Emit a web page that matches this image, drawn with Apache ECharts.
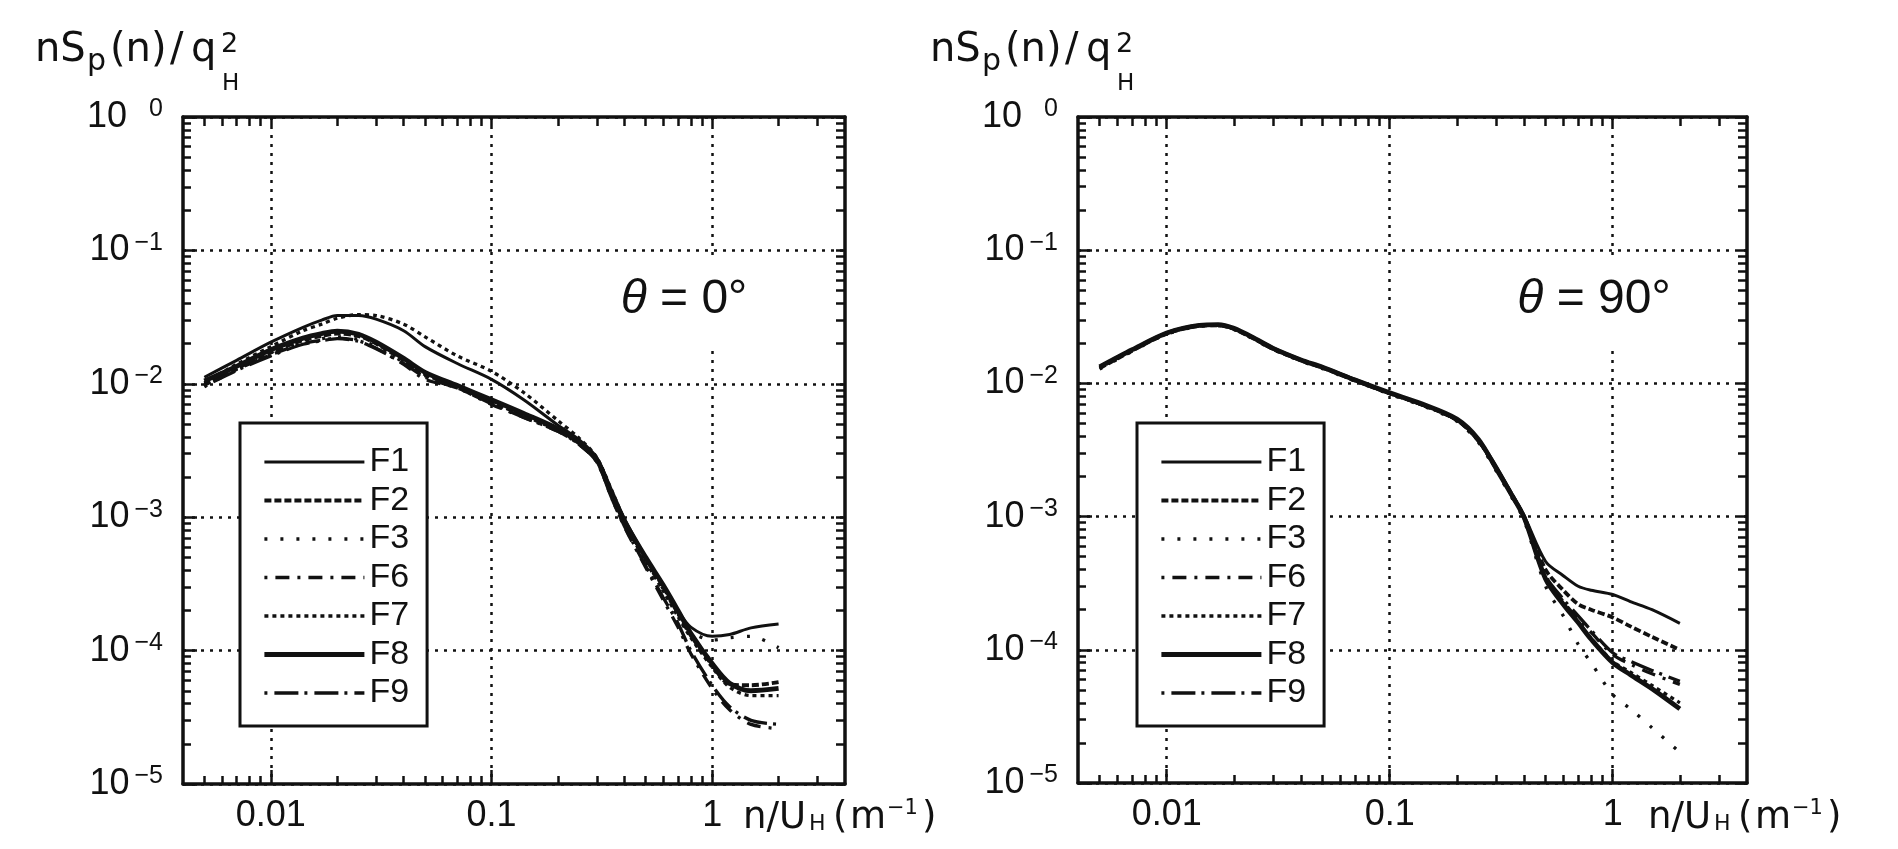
<!DOCTYPE html>
<html>
<head>
<meta charset="utf-8">
<title>nSp(n)/qH2 spectra</title>
<script src="https://cdn.jsdelivr.net/npm/echarts@6/dist/echarts.min.js"></script>
<style>
  html, body { margin: 0; padding: 0; background: #fff; }
  #chart { width: 1898px; height: 849px; }
</style>
</head>
<body>
<div id="chart"></div>
<script>
// n/U_H (1/m), shared by all curves
const FREQ = [0.005, 0.007, 0.01, 0.014, 0.017, 0.02, 0.025, 0.03, 0.04, 0.05, 0.07, 0.1, 0.14, 0.2,
  0.25, 0.3, 0.35, 0.4, 0.5, 0.6, 0.7, 0.8, 1.0, 1.2, 1.5, 2.0];

const X_TICKS = [0.01, 0.1, 1];
const X_TICK_LABELS = ['0.01', '0.1', '1'];
const Y_TICKS = [1e-5, 1e-4, 1e-3, 1e-2, 1e-1, 1];
const Y_TICK_EXPONENTS = ['−5', '−4', '−3', '−2', '−1', '0'];
const SERIES_NAMES = ['F1', 'F2', 'F3', 'F6', 'F7', 'F8', 'F9'];
const PANEL_LABELS = ['0°', '90°'];

// theta = 0
const T0_F1 = [0.0112, 0.0150, 0.0205, 0.0265, 0.0300, 0.0325, 0.0325, 0.0305, 0.0250, 0.0190, 0.0142, 0.0108, 0.0076, 0.0049,
  0.0038, 0.0028, 0.0016, 0.00098, 0.00050, 0.00031, 0.00020, 0.000150, 0.000128, 0.000132, 0.000148, 0.000158];
const T0_F2 = [0.0098, 0.0130, 0.0172, 0.0212, 0.0228, 0.0238, 0.0228, 0.0200, 0.0150, 0.0118, 0.0095, 0.0073, 0.0058, 0.0045,
  0.0036, 0.0027, 0.0015, 0.00092, 0.00049, 0.00030, 0.00019, 0.000130, 0.000078, 0.000056, 0.000055, 0.000058];
const T0_F3 = [0.0095, 0.0128, 0.0168, 0.0205, 0.0218, 0.0225, 0.0215, 0.0190, 0.0145, 0.0115, 0.0094, 0.0072, 0.0057, 0.0045,
  0.0036, 0.0027, 0.0015, 0.00090, 0.00047, 0.00029, 0.00019, 0.000140, 0.000120, 0.000125, 0.000128, 0.000105];
const T0_F6 = [0.0100, 0.0128, 0.0165, 0.0200, 0.0212, 0.0220, 0.0210, 0.0185, 0.0140, 0.0108, 0.0093, 0.0070, 0.0056, 0.0044,
  0.0035, 0.0026, 0.0014, 0.00085, 0.00042, 0.00024, 0.000150, 0.000095, 0.000052, 0.000036, 0.000028, 0.000026];
const T0_F7 = [0.0102, 0.0140, 0.0190, 0.0250, 0.0280, 0.0310, 0.0330, 0.0325, 0.0280, 0.0225, 0.0162, 0.0124, 0.0086, 0.0053,
  0.0039, 0.0028, 0.0016, 0.00096, 0.00047, 0.00028, 0.00018, 0.000125, 0.000075, 0.000053, 0.000046, 0.000046];
const T0_F8 = [0.0105, 0.0135, 0.0180, 0.0220, 0.0238, 0.0248, 0.0235, 0.0205, 0.0155, 0.0122, 0.0097, 0.0076, 0.0060, 0.0046,
  0.0036, 0.0027, 0.0015, 0.00094, 0.00050, 0.00031, 0.00020, 0.000135, 0.000080, 0.000057, 0.000050, 0.000052];
const T0_F9 = [0.0096, 0.0126, 0.0162, 0.0198, 0.0210, 0.0218, 0.0208, 0.0183, 0.0142, 0.0112, 0.0093, 0.0071, 0.0056, 0.0044,
  0.0035, 0.0026, 0.0014, 0.00086, 0.00043, 0.00025, 0.000160, 0.000100, 0.000055, 0.000038, 0.000030, 0.000028];

// theta = 90
const T90_F1 = [0.0134, 0.0180, 0.0240, 0.0274, 0.0277, 0.0260, 0.0217, 0.0185, 0.0151, 0.0133, 0.0107, 0.0085, 0.0070, 0.0054,
  0.0038, 0.0024, 0.00152, 0.00102, 0.00046, 0.00036, 0.00030, 0.00028, 0.00026, 0.00023, 0.00020, 0.000158];
const T90_F2 = [0.0130, 0.0176, 0.0236, 0.0270, 0.0273, 0.0256, 0.0213, 0.0181, 0.0149, 0.0131, 0.0105, 0.0084, 0.0069, 0.0053,
  0.0037, 0.0023, 0.00150, 0.00100, 0.00040, 0.00028, 0.00022, 0.00020, 0.000175, 0.000150, 0.000125, 0.000100];
const T90_F3 = [0.0128, 0.0174, 0.0234, 0.0268, 0.0271, 0.0254, 0.0211, 0.0179, 0.0147, 0.0129, 0.0104, 0.0083, 0.0068, 0.0052,
  0.0036, 0.0022, 0.00142, 0.00094, 0.00030, 0.00018, 0.00011, 0.000080, 0.000046, 0.000036, 0.000026, 0.000017];
const T90_F6 = [0.0132, 0.0178, 0.0238, 0.0272, 0.0275, 0.0258, 0.0215, 0.0182, 0.0150, 0.0132, 0.0106, 0.0084, 0.0069, 0.0053,
  0.0037, 0.0023, 0.00146, 0.00097, 0.00035, 0.00023, 0.00017, 0.000135, 0.000092, 0.000078, 0.000066, 0.000055];
const T90_F7 = [0.0131, 0.0177, 0.0237, 0.0271, 0.0274, 0.0257, 0.0214, 0.0181, 0.0149, 0.0131, 0.0105, 0.0084, 0.0069, 0.0053,
  0.0037, 0.0023, 0.00147, 0.00098, 0.00034, 0.00022, 0.00016, 0.000122, 0.000082, 0.000068, 0.000054, 0.000040];
const T90_F8 = [0.0133, 0.0179, 0.0239, 0.0273, 0.0276, 0.0259, 0.0216, 0.0183, 0.0150, 0.0132, 0.0106, 0.0085, 0.0070, 0.0054,
  0.0038, 0.0023, 0.00148, 0.00099, 0.00034, 0.00022, 0.00016, 0.000120, 0.000080, 0.000065, 0.000051, 0.000036];
const T90_F9 = [0.0132, 0.0178, 0.0238, 0.0272, 0.0275, 0.0258, 0.0215, 0.0182, 0.0150, 0.0132, 0.0106, 0.0084, 0.0069, 0.0053,
  0.0037, 0.0023, 0.00148, 0.00099, 0.00036, 0.00024, 0.00018, 0.000140, 0.000095, 0.000082, 0.000070, 0.000058];

const PANELS = [
  [T0_F1, T0_F2, T0_F3, T0_F6, T0_F7, T0_F8, T0_F9],
  [T90_F1, T90_F2, T90_F3, T90_F6, T90_F7, T90_F8, T90_F9]
];

const INK = '#111';
const FONT = '"Liberation Sans", Arial, sans-serif';
const WIDE = '"DejaVu Sans", sans-serif';
const X_MIN = 0.004, X_MAX = 4, Y_MIN = 1e-5, Y_MAX = 1;
const AXES_PER_GRID = 4;

// line look for every name
const LINE_LOOK = {
  F1: { width: 3, type: 'solid' },
  F2: { width: 3.8, type: [7, 3] },
  F3: { width: 3.3, type: [3, 13] },
  F6: { width: 3.3, type: [3, 8, 14, 8] },
  F7: { width: 3.3, type: [4, 4] },
  F8: { width: 4.8, type: 'solid' },
  F9: { width: 3.3, type: [3, 7, 24, 6] }
};

// tick positions in decade units (log10), used by the tick-only helper axes
function minorExponents(lo, hi) {
  const out = [];
  for (let e = -6; e <= 1; e++) {
    for (let k = 2; k <= 9; k++) {
      const v = e + Math.log10(k);
      if (v > lo + 1e-9 && v < hi - 1e-9) out.push(v);
    }
  }
  return out;
}
const LX = [Math.log10(X_MIN), Math.log10(X_MAX)];
const LY = [Math.log10(Y_MIN), Math.log10(Y_MAX)];
const X_MAJOR_E = X_TICKS.map(Math.log10);
const Y_MAJOR_E = Y_TICKS.map(Math.log10);
const X_MINOR_E = minorExponents(LX[0], LX[1]);
const Y_MINOR_E = minorExponents(LY[0], LY[1]);

const tickLine = { color: INK, width: 2.5 };
const gridLine = { color: INK, width: 2.5, type: [3, 6] };

function xLabel(v) {
  const i = X_TICKS.findIndex(t => Math.abs(t - v) / t < 1e-6);
  return i < 0 ? '' : X_TICK_LABELS[i];
}
function yLabel(v) {
  const e = Math.round(Math.log10(v));
  const i = Y_TICKS.findIndex(t => Math.round(Math.log10(t)) === e);
  if (i < 0) return '';
  return (e === 0 ? '{b|10}{z|' : '{b|10}{s|') + Y_TICK_EXPONENTS[i] + '}';
}

function helper(dim, g, position, values, length, extra) {
  const ext = dim === 'x' ? LX : LY;
  return Object.assign({
    gridIndex: g, type: 'value', min: ext[0], max: ext[1], position: position,
    axisLine: { show: false, onZero: false },
    axisTick: { show: true, inside: true, length: length, customValues: values, lineStyle: tickLine },
    axisLabel: { show: false, customValues: values },
    splitLine: { show: false }
  }, extra || {});
}

function xAxes(g) {
  return [
    {
      gridIndex: g, type: 'log', logBase: 10, min: X_MIN, max: X_MAX, position: 'bottom',
      axisLine: { onZero: false, lineStyle: { color: INK, width: 3.5 } },
      axisTick: { show: false },
      axisLabel: { show: true, customValues: X_TICKS, formatter: xLabel, margin: 14, fontSize: 36, color: INK, fontFamily: FONT },
      splitLine: { show: false }
    },
    helper('x', g, 'bottom', X_MAJOR_E, 14, { splitLine: { show: true, lineStyle: gridLine } }),
    helper('x', g, 'bottom', X_MINOR_E, 8),
    helper('x', g, 'top', X_MINOR_E.concat(X_MAJOR_E).sort((a, b) => a - b), 9,
      { axisLine: { show: true, onZero: false, lineStyle: { color: INK, width: 3.5 } } })
  ];
}

function yAxes(g) {
  return [
    {
      gridIndex: g, type: 'log', logBase: 10, min: Y_MIN, max: Y_MAX, position: 'left',
      axisLine: { onZero: false, lineStyle: { color: INK, width: 3.5 } },
      axisTick: { show: false },
      axisLabel: {
        show: true, customValues: Y_TICKS, formatter: yLabel, margin: 20, color: INK,
        rich: {
          b: { fontSize: 36, lineHeight: 40, fontFamily: FONT, color: INK },
          s: { fontSize: 25, lineHeight: 25, verticalAlign: 'top', fontFamily: FONT, color: INK, padding: [0, 0, 0, 5] },
          z: { fontSize: 25, lineHeight: 25, verticalAlign: 'top', fontFamily: FONT, color: INK, padding: [0, 0, 0, 22] }
        }
      },
      splitLine: { show: false }
    },
    helper('y', g, 'left', Y_MAJOR_E, 14, { splitLine: { show: true, lineStyle: gridLine } }),
    helper('y', g, 'left', Y_MINOR_E, 8),
    helper('y', g, 'right', Y_MINOR_E.concat(Y_MAJOR_E).sort((a, b) => a - b), 9,
      { axisLine: { show: true, onZero: false, lineStyle: { color: INK, width: 3.5 } } })
  ];
}

const series = [];
PANELS.forEach((rows, g) => {
  rows.forEach((vals, k) => {
    const name = SERIES_NAMES[k];
    series.push({
      type: 'line', name: name, xAxisIndex: g * AXES_PER_GRID, yAxisIndex: g * AXES_PER_GRID,
      data: FREQ.map((f, i) => [f, vals[i]]),
      symbol: 'none', smooth: 0.3, silent: true, z: 3,
      itemStyle: { color: INK },
      lineStyle: { color: INK, width: LINE_LOOK[name].width, type: LINE_LOOK[name].type }
    });
  });
});

function txt(x, y, text, size, family) {
  return {
    type: 'text', x: x, y: y, silent: true, z: 10,
    style: { text: text, fill: INK, fontSize: size, fontFamily: family || WIDE, align: 'left', verticalAlign: 'middle' }
  };
}

const graphics = [];
[0, 895].forEach(dx => {
  // y-axis title nSp(n)/q^2_H
  graphics.push(txt(35 + dx, 51, 'nS', 40));
  graphics.push(txt(87 + dx, 62, 'p', 30));
  graphics.push(txt(110 + dx, 51, '(n)', 40));
  graphics.push(txt(170 + dx, 51, '/', 40));
  graphics.push(txt(191 + dx, 51, 'q', 40));
  graphics.push(txt(221 + dx, 45, '2', 27));
  graphics.push(txt(222 + dx, 84, 'H', 23));
});
[0, 905].forEach(dx => {
  // x-axis name n/U_H (m^-1)
  graphics.push(txt(743 + dx, 818, 'n/U', 37));
  graphics.push(txt(809 + dx, 824, 'H', 22));
  graphics.push(txt(833 + dx, 818, '(', 37));
  graphics.push(txt(850 + dx, 818, 'm', 37));
  graphics.push(txt(887 + dx, 809, '−1', 21));
  graphics.push(txt(922 + dx, 818, ')', 37));
});
[684, 1594].forEach((cx, g) => {
  graphics.push({
    type: 'text', x: cx, y: 302, z: 10, silent: true,
    style: {
      text: '{i|θ} = ' + PANEL_LABELS[g], fill: INK, fontSize: 48, fontFamily: FONT,
      align: 'center', verticalAlign: 'middle', backgroundColor: '#fff', padding: [18, 14, 22, 14],
      rich: { i: { fontStyle: 'italic', fontSize: 48, fontFamily: FONT, fill: INK } }
    }
  });
});

const legends = [240, 1137].map(left => ({
  data: SERIES_NAMES, orient: 'vertical', left: left, top: 423,
  itemWidth: 100, itemHeight: 14, itemGap: 0.5, itemTextGap: 14,
  padding: [20, 18, 14, 22], borderColor: INK, borderWidth: 3, backgroundColor: '#fff',
  selectedMode: false,
  itemStyle: { opacity: 0, borderWidth: 0 },
  lineStyle: { width: 'inherit' },
  textStyle: { fontSize: 34, lineHeight: 38, color: INK, fontFamily: FONT }
}));

const chart = echarts.init(document.getElementById('chart'), null, { renderer: 'canvas' });
chart.setOption({
  backgroundColor: '#fff',
  animation: false,
  grid: [
    { left: 183, top: 117, width: 662, height: 667 },
    { left: 1078, top: 117, width: 669, height: 666 }
  ],
  xAxis: xAxes(0).concat(xAxes(1)),
  yAxis: yAxes(0).concat(yAxes(1)),
  legend: legends,
  series: series,
  graphic: graphics
});
</script>
</body>
</html>
